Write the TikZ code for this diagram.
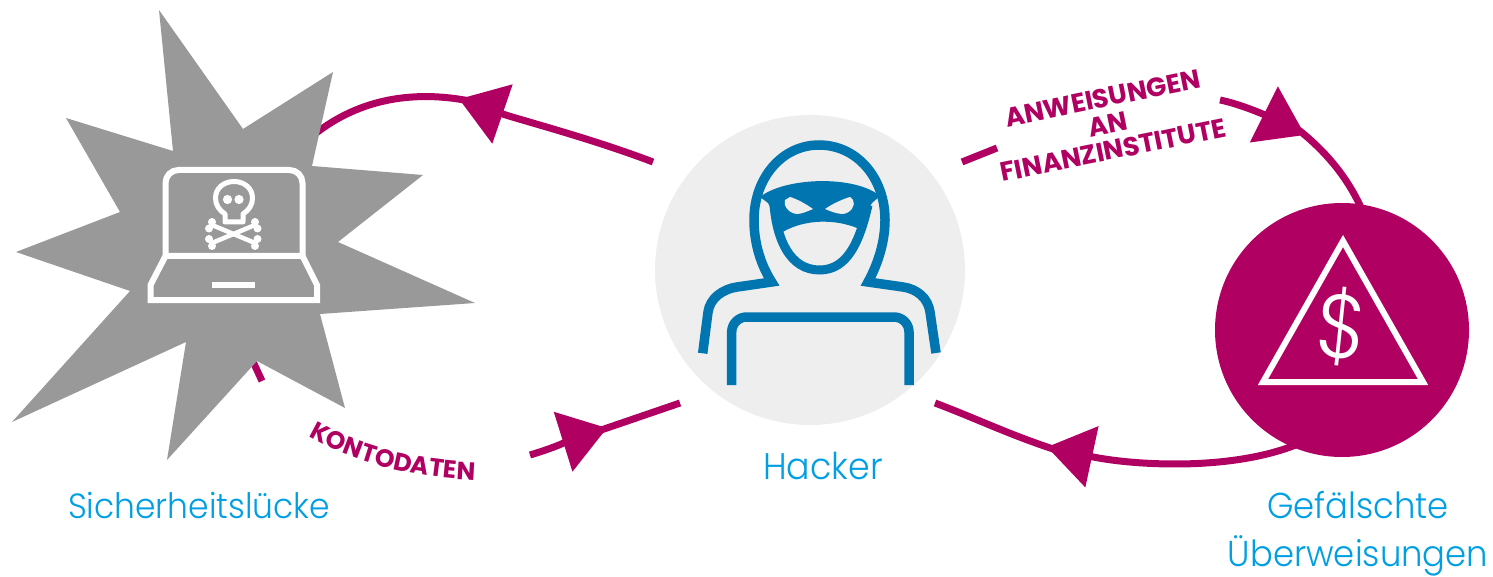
\documentclass[tikz,border=0pt]{standalone}
\usepackage{fontspec}
\usepackage{xcolor}
\usepackage{tikz}
\usetikzlibrary{calc,arrows.meta,decorations.text}
\setmainfont{Poppins}
\newfontfamily\thinfont[UprightFont=* Light,FakeStretch=0.94]{Poppins}
\newfontfamily\heavyfont{Poppins}[UprightFont=* Bold]
\definecolor{berry}{HTML}{B00062}
\definecolor{sky}{HTML}{009FE3}
\definecolor{hood}{HTML}{0075AF}
\definecolor{blast}{HTML}{999999}
\definecolor{disc}{HTML}{EEEEEE}
\tikzset{
  flow/.style={draw=berry, line width=7pt},
  flowtip/.style={flow, -{Triangle[length=46pt,width=61pt]}},
  flowout/.style={flow, shorten <=-8pt},
  lab/.style={text=sky, font=\thinfont\fontsize{36}{48}\selectfont, anchor=base, align=center, inner sep=0pt},
  tag/.style={text=berry, font=\heavyfont\fontsize{26.5}{26.5}\selectfont, align=center, inner sep=0pt},
  icon/.style={draw=white, line width=6pt, fill=none},
  hoodline/.style={draw=hood, line width=9.5pt, fill=none},
}

\begin{document}
\begin{tikzpicture}[x=1pt,y=-1pt]
\useasboundingbox (0,0) rectangle (1493,577);

% Connectors
\coordinate (hackerwest) at (653,162);
\coordinate (tipa) at (459,99);
\coordinate (blastnorth) at (310,138);
\coordinate (hackereast) at (962,162);
\coordinate (hackerdash) at (997,148);
\coordinate (tagend) at (1220,100);
\coordinate (tipb) at (1305,135);
\coordinate (forgednorth) at (1363,212);
\coordinate (forgedwest) at (1298,444);
\coordinate (tipc) at (1047,447);
\coordinate (hackersoutheast) at (935,403);
\coordinate (blastsouth) at (250,355);
\coordinate (blastdash) at (262,381);
\coordinate (tagstart) at (530,455);
\coordinate (tipd) at (607,428);
\coordinate (hackersouthwest) at (680,403);

\draw[flowtip] (hackerwest) .. controls (590,138) and (520,120) .. (tipa);
\draw[flowout] (tipa) .. controls (410,90) and (355,100) .. (blastnorth);
\draw[flow] (hackereast) -- (hackerdash);
\draw[flowtip] (tagend) .. controls (1240,104) and (1265,115) .. (tipb);
\draw[flowout] (tipb) .. controls (1330,155) and (1350,182) .. (forgednorth);
\draw[flowtip] (forgedwest) .. controls (1230,472) and (1130,465) .. (tipc);
\draw[flowout] (tipc) .. controls (1010,435) and (975,418) .. (hackersoutheast);
\draw[flow] (blastsouth) -- (blastdash);
\draw[flowtip] (tagstart) .. controls (560,446) and (575,438) .. (tipd);
\draw[flowout] (tipd) -- (hackersouthwest);

% Star
\fill[blast] (159,10) -- (243,129) -- (333,72) -- (312,166) -- (423,175) -- (338,242)
  -- (475,303) -- (320,314) -- (345,408) -- (257,361) -- (167,460) -- (186,342)
  -- (12,422) -- (130,291) -- (16,252) -- (120,212) -- (66,118) -- (173,151) -- cycle;

% Laptop
\draw[icon, rounded corners=13pt] (165.5,256) -- (165.5,170) -- (302.5,170) -- (302.5,256);
\draw[icon] (165.5,256) -- (302.5,256) -- (317,285) -- (317,300) -- (150.5,300) -- (150.5,285) -- cycle;
\fill[white] (212,282) rectangle (255,288);

% Skull
\draw[icon, line width=5pt, line join=round] (225,222) -- (225,214) .. controls (219,210) and (215.5,205) .. (215.5,198)
  .. controls (215.5,188) and (224,181.5) .. (234,181.5)
  .. controls (244,181.5) and (252.5,188) .. (252.5,198)
  .. controls (252.5,205) and (249,210) .. (243,214) -- (243,222) -- cycle;
\fill[white] (227.5,199.5) circle (4.6) (239,199.5) circle (4.6);
\draw[icon, line width=4.5pt] (212,225) -- (255,243) (212,243) -- (255,225);
\fill[white] (212,222) circle (4) (209,228.5) circle (4) (209,239) circle (4) (212,246) circle (4)
  (255,222) circle (4) (257.5,228.5) circle (4) (257.5,239) circle (4) (255,246) circle (4);

% Hacker
\node[circle, fill=disc, minimum size=310pt, inner sep=0pt] (hacker) at (810,270) {};
\draw[hoodline, miter limit=10] (702.7,353.3) -- (708,312) .. controls (710,298) and (723,289) .. (737,287)
  -- (771.7,282) .. controls (759,262) and (754,240) .. (754,220)
  .. controls (754,178) and (782,145) .. (819,145)
  .. controls (857,145) and (885,178) .. (885,220)
  .. controls (885,240) and (879,262) .. (868,282)
  -- (903,287) .. controls (917,289) and (928,298) .. (930,312) -- (936,353);
\draw[hoodline, rounded corners=15pt] (731.7,385) -- (731.7,317) -- (909,317) -- (909,385);
\draw[hoodline, line width=9pt] (774,205) .. controls (777,240) and (790,270) .. (819.7,270)
  .. controls (848,270) and (860,240) .. (868,205);
\fill[hood] (760,197) .. controls (785,177) and (855,175) .. (880,196) -- (872,203) -- (857,228)
  .. controls (835,219) and (805,219) .. (782.7,232) -- (768,203) -- cycle;
\fill[disc] (790,197) .. controls (797,199) and (806,204) .. (813,209)
  .. controls (806,212) and (801,214) .. (796.7,214) .. controls (788,213) and (783,205) .. (785,200) -- cycle;
\fill[disc] (850,197) .. controls (843,199) and (832,204) .. (825,209)
  .. controls (832,212) and (838,214) .. (843,214) .. controls (851,213) and (856,205) .. (853,200) -- cycle;

% Forged transfer
\node[circle, fill=berry, minimum size=254pt, inner sep=0pt] (forged) at (1342,330) {};
\draw[icon] (1343,241) -- (1423,382) -- (1263,382) -- cycle;
\node[text=white, font=\thinfont\fontsize{90}{90}\selectfont, inner sep=0pt, rotate=-6] (dollar) at (1342,327) {\$};

% Tags
\node[tag, rotate=11.5] (orders) at (1108,124) {ANWEISUNGEN\\AN\\FINANZINSTITUTE};
\path[decorate, decoration={text along path, text align=center,
  text={|\heavyfont\fontsize{25}{25}\selectfont\color{berry}|KONTODATEN}}]
  (309,437) .. controls (360,466) and (420,478) .. (474,480);

% Labels
\node[lab, font=\thinfont\fontsize{35}{51}\selectfont] (vulnlab) at (199,518) {Sicherheitslücke};
\node[lab, font=\thinfont\fontsize{37}{51}\selectfont] (hackerlab) at (823,479) {Hacker};
\node[lab] (forgedlab) at (1358,566) {Gefälschte\\Überweisungen};
\end{tikzpicture}
\end{document}
